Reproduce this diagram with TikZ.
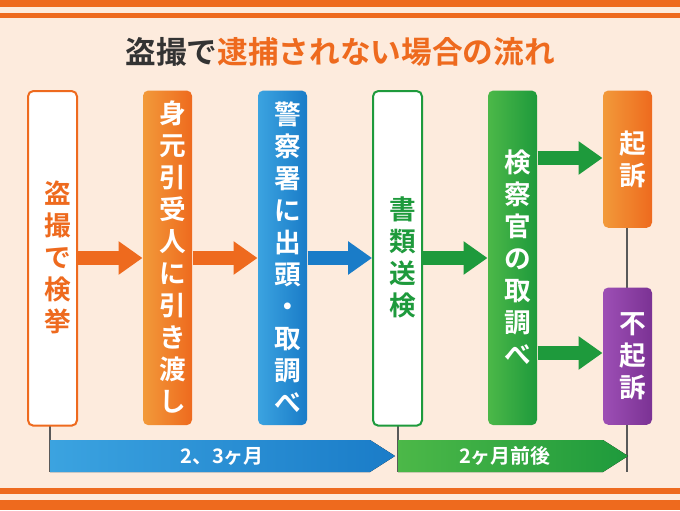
\documentclass[tikz,border=0pt]{standalone}
\usepackage{fontspec}
\setmainfont{Noto Sans CJK JP}[BoldFont={* Bold}]
\usetikzlibrary{arrows.meta}
\definecolor{bgpeach}{HTML}{FDEBDD}
\definecolor{ornge}{HTML}{EE6A1E}
\definecolor{orngelight}{HTML}{F29A3A}
\definecolor{blu}{HTML}{1A7CC8}
\definecolor{blulight}{HTML}{3BA3E0}
\definecolor{grn}{HTML}{1E9A3C}
\definecolor{grnlight}{HTML}{4CB848}
\definecolor{purp}{HTML}{7B3294}
\definecolor{purplight}{HTML}{9D4FB5}
\definecolor{darktxt}{HTML}{333333}
\tikzset{every picture/.style={line width=0.75pt}}
\tikzset{
  stage/.style={rounded corners=4pt, minimum width=36.75pt, anchor=north, inner sep=0pt,
    font=\bfseries\fontsize{20}{24}\selectfont, align=center, text width=1.2em},
  fillstage/.style={stage, text=white, left color=#1light, right color=#1},
  openstage/.style={stage, fill=white, draw=#1, line width=1.5pt, text=#1},
  flow/.style={-{Triangle[length=18pt,width=24pt]}, line width=10pt, draw=#1},
  span/.style={draw=gray!70!black, line width=1pt}
}
\begin{document}
\begin{tikzpicture}[x=0.75pt,y=0.75pt,yscale=-1]
\useasboundingbox (0,0) rectangle (680,510);
\fill[bgpeach] (0,0) rectangle (680,510);
%stripes
\fill[ornge] (0,0) rectangle (680,7);
\fill[ornge] (0,13) rectangle (680,18);
\fill[ornge] (0,488) rectangle (680,494);
\fill[ornge] (0,500) rectangle (680,510);
%title
\node (title) at (340,52) {\bfseries\fontsize{23}{26}\selectfont\textcolor{darktxt}{盗撮で}\textcolor{ornge}{逮捕されない場合の流れ}};
%span lines
\draw[span] (50,420) -- (50,472);
\draw[span] (398,420) -- (398,472);
\draw[span] (627,200) -- (627,472);
%stages
\node[openstage=ornge, minimum height=251pt] (s1) at (52.5,90) {};
\node[text=ornge, font=\bfseries\fontsize{20}{24}\selectfont, align=center, text width=1.2em] (t1) at (52.5,257) {盗\\撮\\で\\検\\挙};
\node[fillstage=ornge, minimum height=251pt] (s2) at (167.5,90) {};
\node[text=white, font=\bfseries\fontsize{20}{24}\selectfont, align=center, text width=1.2em] (t2) at (167.5,257) {身\\元\\引\\受\\人\\に\\引\\き\\渡\\し};
\node[fillstage=blu, minimum height=251pt] (s3) at (282.5,90) {};
\node[text=white, font=\bfseries\fontsize{20}{24}\selectfont, align=center, text width=1.2em] (t3) at (282.5,257) {警\\察\\署\\に\\出\\頭\\・\\取\\調\\べ};
\node[openstage=grn, minimum height=251pt] (s4) at (397.5,90) {};
\node[text=grn, font=\bfseries\fontsize{20}{24}\selectfont, align=center, text width=1.2em] (t4) at (397.5,257) {書\\類\\送\\検};
\node[fillstage=grn, minimum height=251pt] (s5) at (512.5,90) {};
\node[text=white, font=\bfseries\fontsize{20}{24}\selectfont, align=center, text width=1.2em] (t5) at (512.5,257) {検\\察\\官\\の\\取\\調\\べ};
\node[fillstage=ornge, minimum height=103pt] (s6) at (627.5,90) {起\\訴};
\node[fillstage=purp, minimum height=103pt] (s7) at (627.5,287) {不\\起\\訴};
%arrows
\draw[flow=ornge] (s1.east |- 0,258) -- (s2.west |- 0,258);
\draw[flow=ornge] (s2.east |- 0,258) -- (s3.west |- 0,258);
\draw[flow=blu] (s3.east |- 0,258) -- (s4.west |- 0,258);
\draw[flow=grn] (s4.east |- 0,258) -- (s5.west |- 0,258);
\draw[flow=grn] (s5.east |- 0,158) -- (s6.west |- 0,158);
\draw[flow=grn] (s5.east |- 0,353) -- (s7.west |- 0,353);
%periods
\fill[left color=blulight, right color=blu] (50,440) -- (370,440) -- (395,456) -- (370,472) -- (50,472) -- cycle;
\node[text=white, font=\bfseries\fontsize{15}{18}\selectfont] (p1) at (222,456) {2、3ヶ月};
\fill[left color=grnlight, right color=grn] (398,440) -- (603,440) -- (628,456) -- (603,472) -- (398,472) -- cycle;
\node[text=white, font=\bfseries\fontsize{15}{18}\selectfont] (p2) at (505,456) {2ヶ月前後};
\end{tikzpicture}
\end{document}
